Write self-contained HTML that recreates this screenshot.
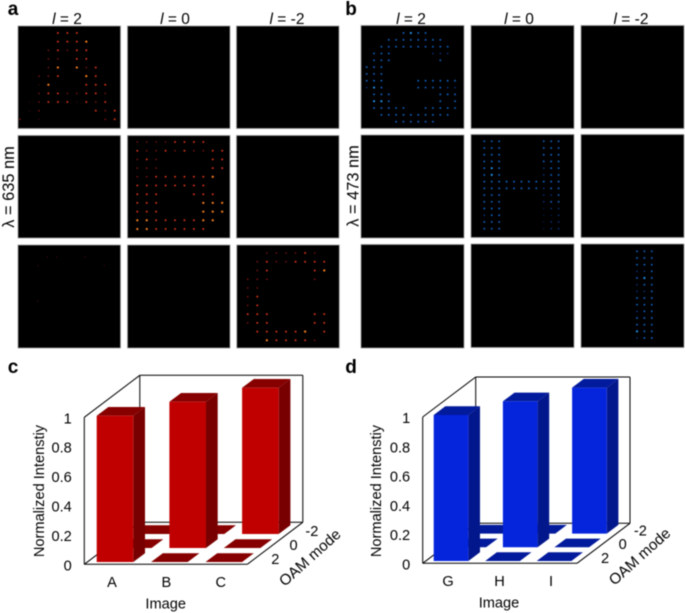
<!DOCTYPE html>
<html>
<head>
<meta charset="utf-8">
<title>OAM holography results</title>
<style>
html,body{margin:0;padding:0;background:#fff;}
#figure{display:block;width:685px;height:613px;filter:blur(0.4px);font-family:"Liberation Sans",Arial,sans-serif;fill:#000;}
</style>
</head>
<body>
<svg id="figure" xmlns="http://www.w3.org/2000/svg" width="685" height="613" viewBox="0 0 685 613"></svg>
<script>
// Spot image data: each string is one row of spots, each digit a brightness level (0 = no spot).
var spotsA = ["00003330000","00003334000","00023233000","00022033000","00024042300","00223004300","00140003330","00233223320","01233313230","01200000323","20100000023"];
var spotsB = ["2222333300","3223232233","2320000033","2220000033","2233333340","3333333300","3330003330","3330000444","3330000444","4433333440","4433333300"];
var spotsC = ["002222320","023223333","023000034","222000020","220000000","230000000","230000000","333000033","233000033","033333403","004333320"];
var spotsFaint = ["01100100","10000001","00000000","00000000","00000000","10000000"];
var spotsG = ["0000034330000","0003333333300","0033333333330","0333000002220","0333000000300","3330000000000","3330000000000","3330000333333","2430000333322","0333000000333","0443000000303","0333330033333","0033333333330","0000333333000"];
var spotsH = ["33300000333","33300000333","33300000333","33300000333","34300000233","34300000233","33333333333","33333333233","33300000223","33300000233","33300000122","23300000112","33300000122","33300000122"];
var spotsI = ["333","333","333","223","343","233","223","333","333","233","333","333","433","233"];

// Bar chart data.
var categoriesC = ["A","B","C"];
var categoriesD = ["G","H","I"];
var modes = ["2","0","-2"];
var intensityC = [[1,0,0],[0,1,0],[0,0,1]];
var intensityD = [[1,0,0],[0,1,0],[0,0,1]];
var tickValues = [0,0.2,0.4,0.6,0.8,1];
var tickLabels = ["0","0.2","0.4","0.6","0.8","1"];

var svg = document.getElementById('figure');
var NS = 'http://www.w3.org/2000/svg';
function make(tag, attrs, text, parent){
  var e = document.createElementNS(NS, tag);
  for (var k in attrs) e.setAttribute(k, attrs[k]);
  if (text !== undefined && text !== null) e.textContent = text;
  (parent || svg).appendChild(e);
  return e;
}

var redLevels = [null,{c:'#4a0c0c',r:0.6},{c:'#8a1512',r:0.8},{c:'#d23216',r:1.0},{c:'#f07a1c',r:1.15}];
var blueLevels = [null,{c:'#0a2060',r:0.6},{c:'#0c3686',r:0.8},{c:'#1060c0',r:0.95},{c:'#2090e8',r:1.1}];

function drawFrame(name, x, y, w, h){
  var g = make('g', {});
  
  
  var r = make('rect', {x:x, y:y, width:w, height:h, fill:'#000', stroke:'#9a9a9a', 'stroke-width':0.8}, null, g);
  
  
  return g;
}
function drawSpots(group, rows, x0, dx, y0, dy, levels){
  function sx(col){ return x0 + col * dx; }
  function sy(row){ return y0 + row * dy; }
  for (var r = 0; r < rows.length; r++){
    for (var c = 0; c < rows[r].length; c++){
      var lv = +rows[r].charAt(c);
      if (!lv) continue;
      var s = make('circle', {cx:sx(c), cy:sy(r), r:levels[lv].r, fill:levels[lv].c}, null, group);
      
      
    }
  }
}

var g;
drawFrame('panel-a-l2-mode-0', 18, 26, 102.5, 102.5);
g = svg.lastChild; drawSpots(g, spotsA, 20, 9.47, 33, 8.63, redLevels);
drawFrame('panel-a-l0-empty', 127.5, 26, 102.5, 102.5);
drawFrame('panel-a-lm2-empty', 236.5, 26, 102.5, 102.5);
drawFrame('panel-a-row2-l2-empty', 18, 135.5, 102.5, 102.5);
drawFrame('panel-b-letter', 127.5, 135.5, 102.5, 102.5);
g = svg.lastChild; drawSpots(g, spotsB, 137.3, 9.43, 142, 8.7, redLevels);
drawFrame('panel-a-row2-lm2-empty', 236.5, 135.5, 102.5, 102.5);
drawFrame('panel-a-row3-l2-faint', 18, 245, 102.5, 103);
g = svg.lastChild; drawSpots(g, spotsFaint, 37.7, 9.5, 257, 8.83, redLevels);
drawFrame('panel-a-row3-l0-empty', 127.5, 245, 102.5, 103);
drawFrame('panel-c-letter', 236.8, 245, 102.5, 103);
g = svg.lastChild; drawSpots(g, spotsC, 247.7, 9.57, 253, 8.73, redLevels);

drawFrame('panel-g-letter', 361, 25.5, 103, 103);
g = svg.lastChild; drawSpots(g, spotsG, 366.7, 7.36, 33, 6.82, blueLevels);
drawFrame('panel-b-l0-empty', 471, 25.5, 103, 103);
drawFrame('panel-b-lm2-empty', 581, 25.5, 103, 103);
drawFrame('panel-b-row2-l2-empty', 361, 135, 103, 103);
drawFrame('panel-h-letter', 471, 134.5, 103, 103);
g = svg.lastChild; drawSpots(g, spotsH, 484.3, 7.43, 141.3, 6.72, blueLevels);
drawFrame('panel-b-row2-lm2-empty', 581, 134.5, 103, 103);
drawFrame('panel-b-row3-l2-empty', 361, 244.5, 103, 103.5);
drawFrame('panel-b-row3-l0-empty', 471, 244, 103, 103.5);
drawFrame('panel-i-letter', 581, 244, 103, 103.5);
g = svg.lastChild; drawSpots(g, spotsI, 637, 7.4, 251.3, 6.67, blueLevels);

function label(name, x, y, text, size, opts){
  var t = make('text', {x:x, y:y, 'font-size':size, 'text-anchor':(opts && opts.anchor) || 'middle'}, null);
  
  
  if (opts && opts.weight) t.setAttribute('font-weight', opts.weight);
  if (opts && opts.rotate !== undefined) t.setAttribute('transform', 'rotate(' + opts.rotate + ' ' + x + ' ' + y + ')');
  if (opts && opts.fill) t.setAttribute('fill', opts.fill);
  t.textContent = text;
  return t;
}
function modeHeader(name, x, y, value){
  var t = make('text', {x:x, y:y, 'font-size':15.5, 'text-anchor':'middle'});
  
  
  var i = make('tspan', {'font-style':'italic'}, 'l', t);
  
  
  make('tspan', {}, ' = ' + value, t);
}

label('panel-label-a', 13, 15, 'a', 19, {weight:'bold', fill:'#000'});
label('panel-label-b', 351, 15, 'b', 19, {weight:'bold', fill:'#000'});
label('panel-label-c', 13, 373, 'c', 19, {weight:'bold', fill:'#000'});
label('panel-label-d', 351, 373, 'd', 19, {weight:'bold', fill:'#000'});
modeHeader('column-header-a-l2', 67, 24, '2');
modeHeader('column-header-a-l0', 175, 24, '0');
modeHeader('column-header-a-lm2', 287, 24, '-2');
modeHeader('column-header-b-l2', 411, 24, '2');
modeHeader('column-header-b-l0', 519, 24, '0');
modeHeader('column-header-b-lm2', 631, 24, '-2');
label('wavelength-label-635', 14, 187, 'λ = 635 nm', 16.4, {rotate:-90});
label('wavelength-label-473', 358.5, 186, 'λ = 473 nm', 16.4, {rotate:-90});

function poly(parent, pts, fill, name){
  var p = make('polygon', {points:pts.map(function(q){return q[0].toFixed(2)+','+q[1].toFixed(2);}).join(' '), fill:fill}, null, parent);
  
  
  return p;
}
function axisLine(parent, a, b, name){
  var l = make('line', {x1:a[0], y1:a[1], x2:b[0], y2:b[1], stroke:'#000', 'stroke-width':1}, null, parent);
  
  
}

function drawBars3d(c, id, categories, values){
  var root = make('g', {});
  
  

  function zScale(v){ return v * c.barH; }
  function barX(i, j){ return c.barX0 + i * c.step + j * c.rowDX; }
  function barY(j){ return c.barY0 - j * c.rowDY; }
  function axisY(v){ return c.fy - v * c.H; }

  var fl = [c.fx, c.fy], fr = [c.fx + c.w, c.fy];
  var bl = [c.fx + c.depthX, c.fy - c.depthY], br = [c.fx + c.w + c.depthX, c.fy - c.depthY];
  var tl = [c.fx, c.fy - c.H], tbl = [bl[0], bl[1] - c.H], tbr = [br[0], br[1] - c.H];
  axisLine(root, tl, fl, 'z-axis-line');
  axisLine(root, fl, fr, 'image-axis-line');
  axisLine(root, fr, br, 'mode-axis-line');
  axisLine(root, br, tbr, 'back-right-edge');
  axisLine(root, tbr, tbl, 'back-top-edge');
  axisLine(root, tbl, tl, 'left-top-edge');
  axisLine(root, tbl, bl, 'back-left-edge');
  axisLine(root, bl, br, 'floor-back-edge');
  axisLine(root, bl, fl, 'floor-left-edge');

  for (var j = modes.length - 1; j >= 0; j--){
    for (var i = 0; i < categories.length; i++){
      var v = values[j][i];
      var x = barX(i, j), y = barY(j), h = zScale(v);
      var n = 'bar-' + categories[i] + '-mode-' + modes[j];
      var bg = make('g', {}, null, root);
      
      
      poly(bg, [[x, y - h], [x + c.bdx, y - h - c.bdy], [x + c.barW + c.bdx, y - h - c.bdy], [x + c.barW, y - h]], c.top, n + '-top');
      if (h > 0){
        poly(bg, [[x + c.barW, y - h], [x + c.barW + c.bdx, y - h - c.bdy], [x + c.barW + c.bdx, y - c.bdy], [x + c.barW, y]], c.side, n + '-side');
        poly(bg, [[x, y - h], [x + c.barW, y - h], [x + c.barW, y], [x, y]], c.front, n + '-front');
      }
    }
  }

  for (var t = 0; t < tickValues.length; t++){
    var tick = make('text', {x:c.fx - 12.5, y:axisY(tickValues[t]) + 6, 'font-size':14.6, 'text-anchor':'end'}, tickLabels[t], root);
    
    
  }
  for (var k = 0; k < categories.length; k++){
    var cat = make('text', {x:c.barX0 + c.barW / 2 - 3 + k * (c.step), y:c.fy + 22.5, 'font-size':14.6, 'text-anchor':'middle'}, categories[k], root);
    
    
  }
  for (var m = 0; m < modes.length; m++){
    var mt = make('text', {x:c.fx + c.w + 28 + m * c.rowDX, y:c.fy - 0.5 - m * c.rowDY, 'font-size':14.6, 'text-anchor':'middle'}, modes[m], root);
    
    
  }
  var yt = make('text', {x:c.yTitleX, y:491, 'font-size':14.6, 'text-anchor':'middle', transform:'rotate(-90 ' + c.yTitleX + ' 491)'}, 'Normalized Intenstiy', root);
  
  
  var xt = make('text', {x:c.xTitleX, y:c.fy + 44, 'font-size':14.6, 'text-anchor':'middle'}, 'Image', root);
  
  
  var ox = c.fx + c.w + 66, oy = c.fy - 3;
  var ot = make('text', {x:ox, y:oy, 'font-size':15.2, 'text-anchor':'middle', transform:'rotate(-42 ' + ox + ' ' + oy + ')'}, 'OAM mode', root);
  
  
}

drawBars3d({fx:84.3, fy:564.3, w:163, depthX:55.5, depthY:42, H:147, barX0:96.7, barY0:562, step:54.4, barW:36.6, rowDX:18.3, rowDY:14, bdx:11.7, bdy:8.7, barH:146.3,
  front:'#c00000', side:'#780000', top:'#870000', yTitleX:44, xTitleX:165.7}, 'chart-c', categoriesC, intensityC);
drawBars3d({fx:422.7, fy:563.3, w:154.3, depthX:53, depthY:40, H:146.3, barX0:433.7, barY0:561, step:51.5, barW:34.7, rowDX:17.7, rowDY:13.7, bdx:11.6, bdy:8.7, barH:146,
  front:'#0525dc', side:'#03178c', top:'#021a9c', yTitleX:381, xTitleX:499}, 'chart-d', categoriesD, intensityD);
</script>
</body>
</html>
